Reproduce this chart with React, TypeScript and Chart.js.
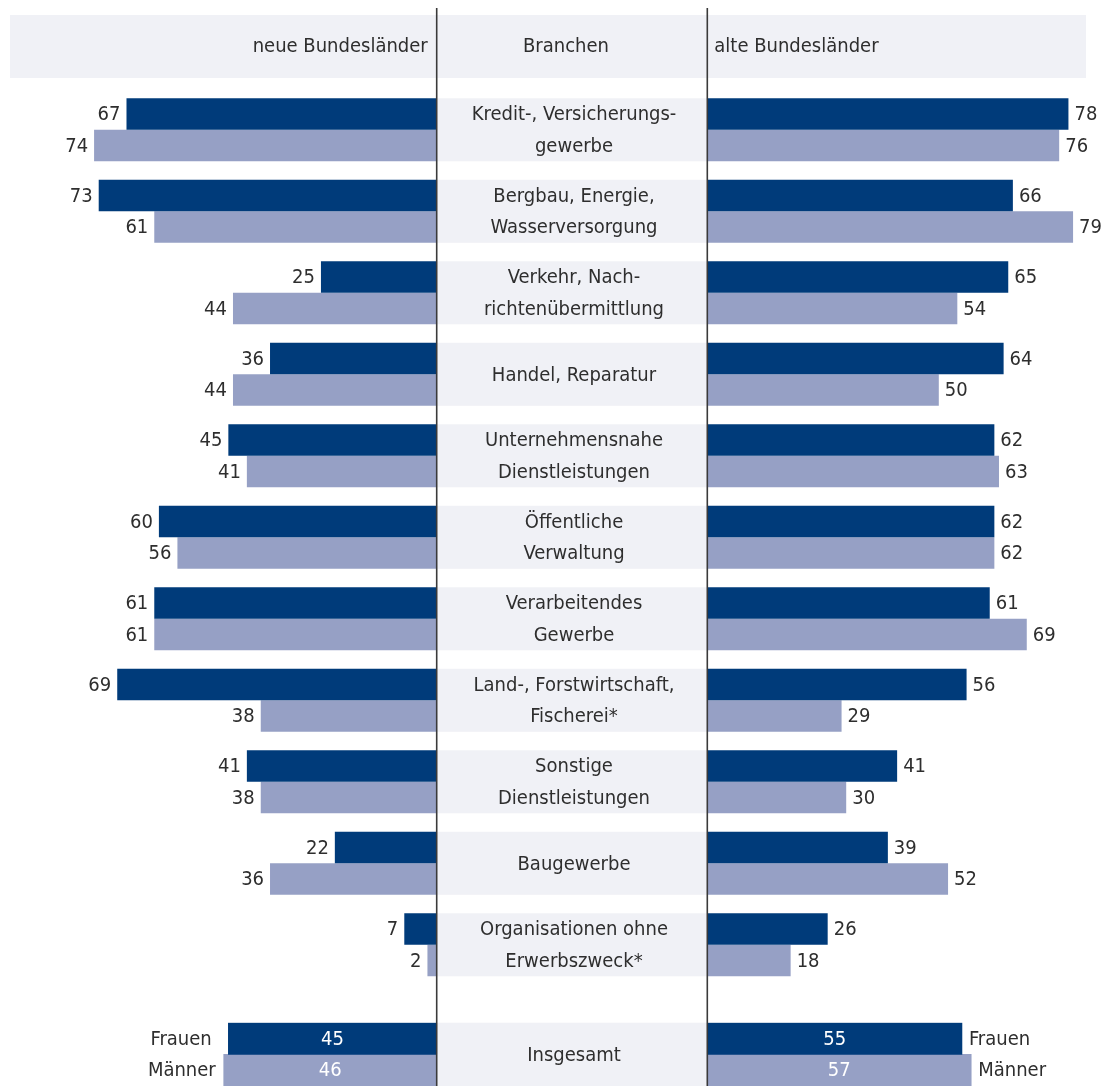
import React, { useEffect, useRef } from "react";
import { Chart, registerables } from "chart.js";

Chart.register(...registerables);

// ---------- data ----------
const categories: string[][] = [
  ["Kredit-, Versicherungs-", "gewerbe"],
  ["Bergbau, Energie,", "Wasserversorgung"],
  ["Verkehr, Nach-", "richtenübermittlung"],
  ["Handel, Reparatur"],
  ["Unternehmensnahe", "Dienstleistungen"],
  ["Öffentliche", "Verwaltung"],
  ["Verarbeitendes", "Gewerbe"],
  ["Land-, Forstwirtschaft,", "Fischerei*"],
  ["Sonstige", "Dienstleistungen"],
  ["Baugewerbe"],
  ["Organisationen ohne", "Erwerbszweck*"],
];
const neueFrauen = [67, 73, 25, 36, 45, 60, 61, 69, 41, 22, 7];
const neueMaenner = [74, 61, 44, 44, 41, 56, 61, 38, 38, 36, 2];
const alteFrauen = [78, 66, 65, 64, 62, 62, 61, 56, 41, 39, 26];
const alteMaenner = [76, 79, 54, 50, 63, 62, 69, 29, 30, 52, 18];

const totalCategory: string[][] = [["Insgesamt"]];
const totalNeueFrauen = [45];
const totalNeueMaenner = [46];
const totalAlteFrauen = [55];
const totalAlteMaenner = [57];

const headerLeft = "neue Bundesländer";
const headerCenter = "Branchen";
const headerRight = "alte Bundesländer";
const genderLabels = ["Frauen", "Männer"];

// ---------- layout / style ----------
const W = 1111;
const PX_PER_UNIT = 4.63;
const CENTER_PX = 572;
const HALF_GAP = 135.3 / PX_PER_UNIT;
const X_MIN = -CENTER_PX / PX_PER_UNIT;
const X_MAX = (W - CENTER_PX) / PX_PER_UNIT;

const DARK = "#003b7a";
const LIGHT = "#96a0c5";
const PANEL = "#f0f1f6";
const TEXT = "#2e2e2e";
const LINE = "#3a3a3a";
const FONT = '20px "Liberation Sans Narrow", "DejaVu Sans Condensed", "Liberation Sans", Arial, sans-serif';

const leftBar = (v: number) => [-HALF_GAP, -HALF_GAP - v];
const rightBar = (v: number) => [HALF_GAP, HALF_GAP + v];

function txt(
  ctx: CanvasRenderingContext2D,
  s: string,
  x: number,
  y: number,
  align: CanvasTextAlign,
  color = TEXT
) {
  ctx.save();
  ctx.font = FONT;
  ctx.fillStyle = color;
  ctx.textAlign = align;
  ctx.textBaseline = "middle";
  ctx.fillText(s, x, y + 1);
  ctx.restore();
}

function makeDatasets(nf: number[], af: number[], nm: number[], am: number[]) {
  return [
    { label: "neue Frauen", data: nf.map(leftBar), backgroundColor: DARK, stack: "f", borderWidth: 0 },
    { label: "alte Frauen", data: af.map(rightBar), backgroundColor: DARK, stack: "f", borderWidth: 0 },
    { label: "neue Männer", data: nm.map(leftBar), backgroundColor: LIGHT, stack: "m", borderWidth: 0 },
    { label: "alte Männer", data: am.map(rightBar), backgroundColor: LIGHT, stack: "m", borderWidth: 0 },
  ];
}

function scalesCfg() {
  return {
    x: { type: "linear", min: X_MIN, max: X_MAX, display: false, stacked: false },
    y: { type: "category", display: false, offset: true },
  };
}

// draws panels, center labels, lines
function panelPlugin(labels: string[][], lineTop: number) {
  return {
    id: "panels",
    beforeDatasetsDraw(chart: any) {
      const ctx = chart.ctx as CanvasRenderingContext2D;
      const x = chart.scales.x;
      const l = x.getPixelForValue(-HALF_GAP);
      const r = x.getPixelForValue(HALF_GAP);
      const m0 = chart.getDatasetMeta(0);
      const m2 = chart.getDatasetMeta(2);
      labels.forEach((lab, i) => {
        const b0 = m0.data[i] as any;
        const b2 = m2.data[i] as any;
        const top = b0.y - b0.height / 2;
        const bottom = b2.y + b2.height / 2;
        ctx.save();
        ctx.fillStyle = PANEL;
        ctx.fillRect(l, top, r - l, bottom - top);
        ctx.restore();
        const cx = (l + r) / 2 + 2;
        if (lab.length === 1) txt(ctx, lab[0], cx, (b0.y + b2.y) / 2, "center");
        else {
          txt(ctx, lab[0], cx, b0.y, "center");
          txt(ctx, lab[1], cx, b2.y, "center");
        }
      });
    },
    afterDatasetsDraw(chart: any) {
      const ctx = chart.ctx as CanvasRenderingContext2D;
      const x = chart.scales.x;
      const l = x.getPixelForValue(-HALF_GAP);
      const r = x.getPixelForValue(HALF_GAP);
      ctx.save();
      ctx.strokeStyle = LINE;
      ctx.lineWidth = 1.6;
      [l, r].forEach((px) => {
        ctx.beginPath();
        ctx.moveTo(px, lineTop);
        ctx.lineTo(px, chart.height);
        ctx.stroke();
      });
      ctx.restore();
    },
  };
}

const valuePlugin = {
  id: "values",
  afterDatasetsDraw(chart: any) {
    const ctx = chart.ctx as CanvasRenderingContext2D;
    const sources = [neueFrauen, alteFrauen, neueMaenner, alteMaenner];
    sources.forEach((vals, di) => {
      const meta = chart.getDatasetMeta(di);
      const isLeft = di % 2 === 0;
      meta.data.forEach((el: any, i: number) => {
        if (isLeft) txt(ctx, String(vals[i]), Math.min(el.x, el.base) - 6, el.y, "right");
        else txt(ctx, String(vals[i]), Math.max(el.x, el.base) + 6, el.y, "left");
      });
    });
  },
};

const headerPlugin = {
  id: "header",
  beforeDatasetsDraw(chart: any) {
    const ctx = chart.ctx as CanvasRenderingContext2D;
    const x = chart.scales.x;
    const l = x.getPixelForValue(-HALF_GAP);
    const r = x.getPixelForValue(HALF_GAP);
    ctx.save();
    ctx.fillStyle = PANEL;
    ctx.fillRect(10, 15, 1076, 63);
    ctx.restore();
    txt(ctx, headerLeft, l - 9, 46, "right");
    txt(ctx, headerCenter, (l + r) / 2 - 6, 46, "center");
    txt(ctx, headerRight, r + 7, 46, "left");
  },
};

const totalValuePlugin = {
  id: "totalValues",
  afterDatasetsDraw(chart: any) {
    const ctx = chart.ctx as CanvasRenderingContext2D;
    const sources = [totalNeueFrauen, totalAlteFrauen, totalNeueMaenner, totalAlteMaenner];
    const metas = [0, 1, 2, 3].map((d) => chart.getDatasetMeta(d).data[0] as any);
    const leftEdge = Math.min(
      Math.min(metas[0].x, metas[0].base),
      Math.min(metas[2].x, metas[2].base)
    );
    sources.forEach((vals, di) => {
      const el = metas[di];
      txt(ctx, String(vals[0]), (el.x + el.base) / 2, el.y, "center", "#ffffff");
      const g = genderLabels[di < 2 ? 0 : 1];
      if (di % 2 === 0) txt(ctx, g, leftEdge - (di === 0 ? 12 : 8), el.y, "right");
      else txt(ctx, g, Math.max(el.x, el.base) + 7, el.y, "left");
    });
  },
};

export default function App() {
  const refA = useRef<HTMLCanvasElement>(null);
  const refB = useRef<HTMLCanvasElement>(null);

  useEffect(() => {
    document.body.style.margin = "0";
    const a = new Chart(refA.current as HTMLCanvasElement, {
      type: "bar",
      data: {
        labels: categories as any,
        datasets: makeDatasets(neueFrauen, alteFrauen, neueMaenner, alteMaenner) as any,
      },
      options: {
        indexAxis: "y",
        responsive: false,
        animation: false,
        categoryPercentage: 0.773,
        barPercentage: 1,
        layout: { padding: { top: 89.05, bottom: 1000 - 985.55, left: 0, right: 0 } },
        scales: scalesCfg() as any,
        plugins: { legend: { display: false }, tooltip: { enabled: false } },
      } as any,
      plugins: [headerPlugin, panelPlugin(categories, 8), valuePlugin] as any,
    });
    const b = new Chart(refB.current as HTMLCanvasElement, {
      type: "bar",
      data: {
        labels: totalCategory as any,
        datasets: makeDatasets(totalNeueFrauen, totalAlteFrauen, totalNeueMaenner, totalAlteMaenner) as any,
      },
      options: {
        indexAxis: "y",
        responsive: false,
        animation: false,
        categoryPercentage: 1,
        barPercentage: 1,
        layout: { padding: { top: 22.7, bottom: 0, left: 0, right: 0 } },
        scales: scalesCfg() as any,
        plugins: { legend: { display: false }, tooltip: { enabled: false } },
      } as any,
      plugins: [panelPlugin(totalCategory, 0), totalValuePlugin] as any,
    });
    return () => {
      a.destroy();
      b.destroy();
    };
  }, []);

  return (
    <div
      style={{
        position: "fixed",
        left: 0,
        top: 0,
        width: 1111,
        height: 1086,
        overflow: "hidden",
        background: "#ffffff",
      }}
    >
      <canvas ref={refA} width={1111} height={1000} style={{ position: "absolute", left: 0, top: 0 }} />
      <canvas ref={refB} width={1111} height={86} style={{ position: "absolute", left: 0, top: 1000 }} />
    </div>
  );
}
